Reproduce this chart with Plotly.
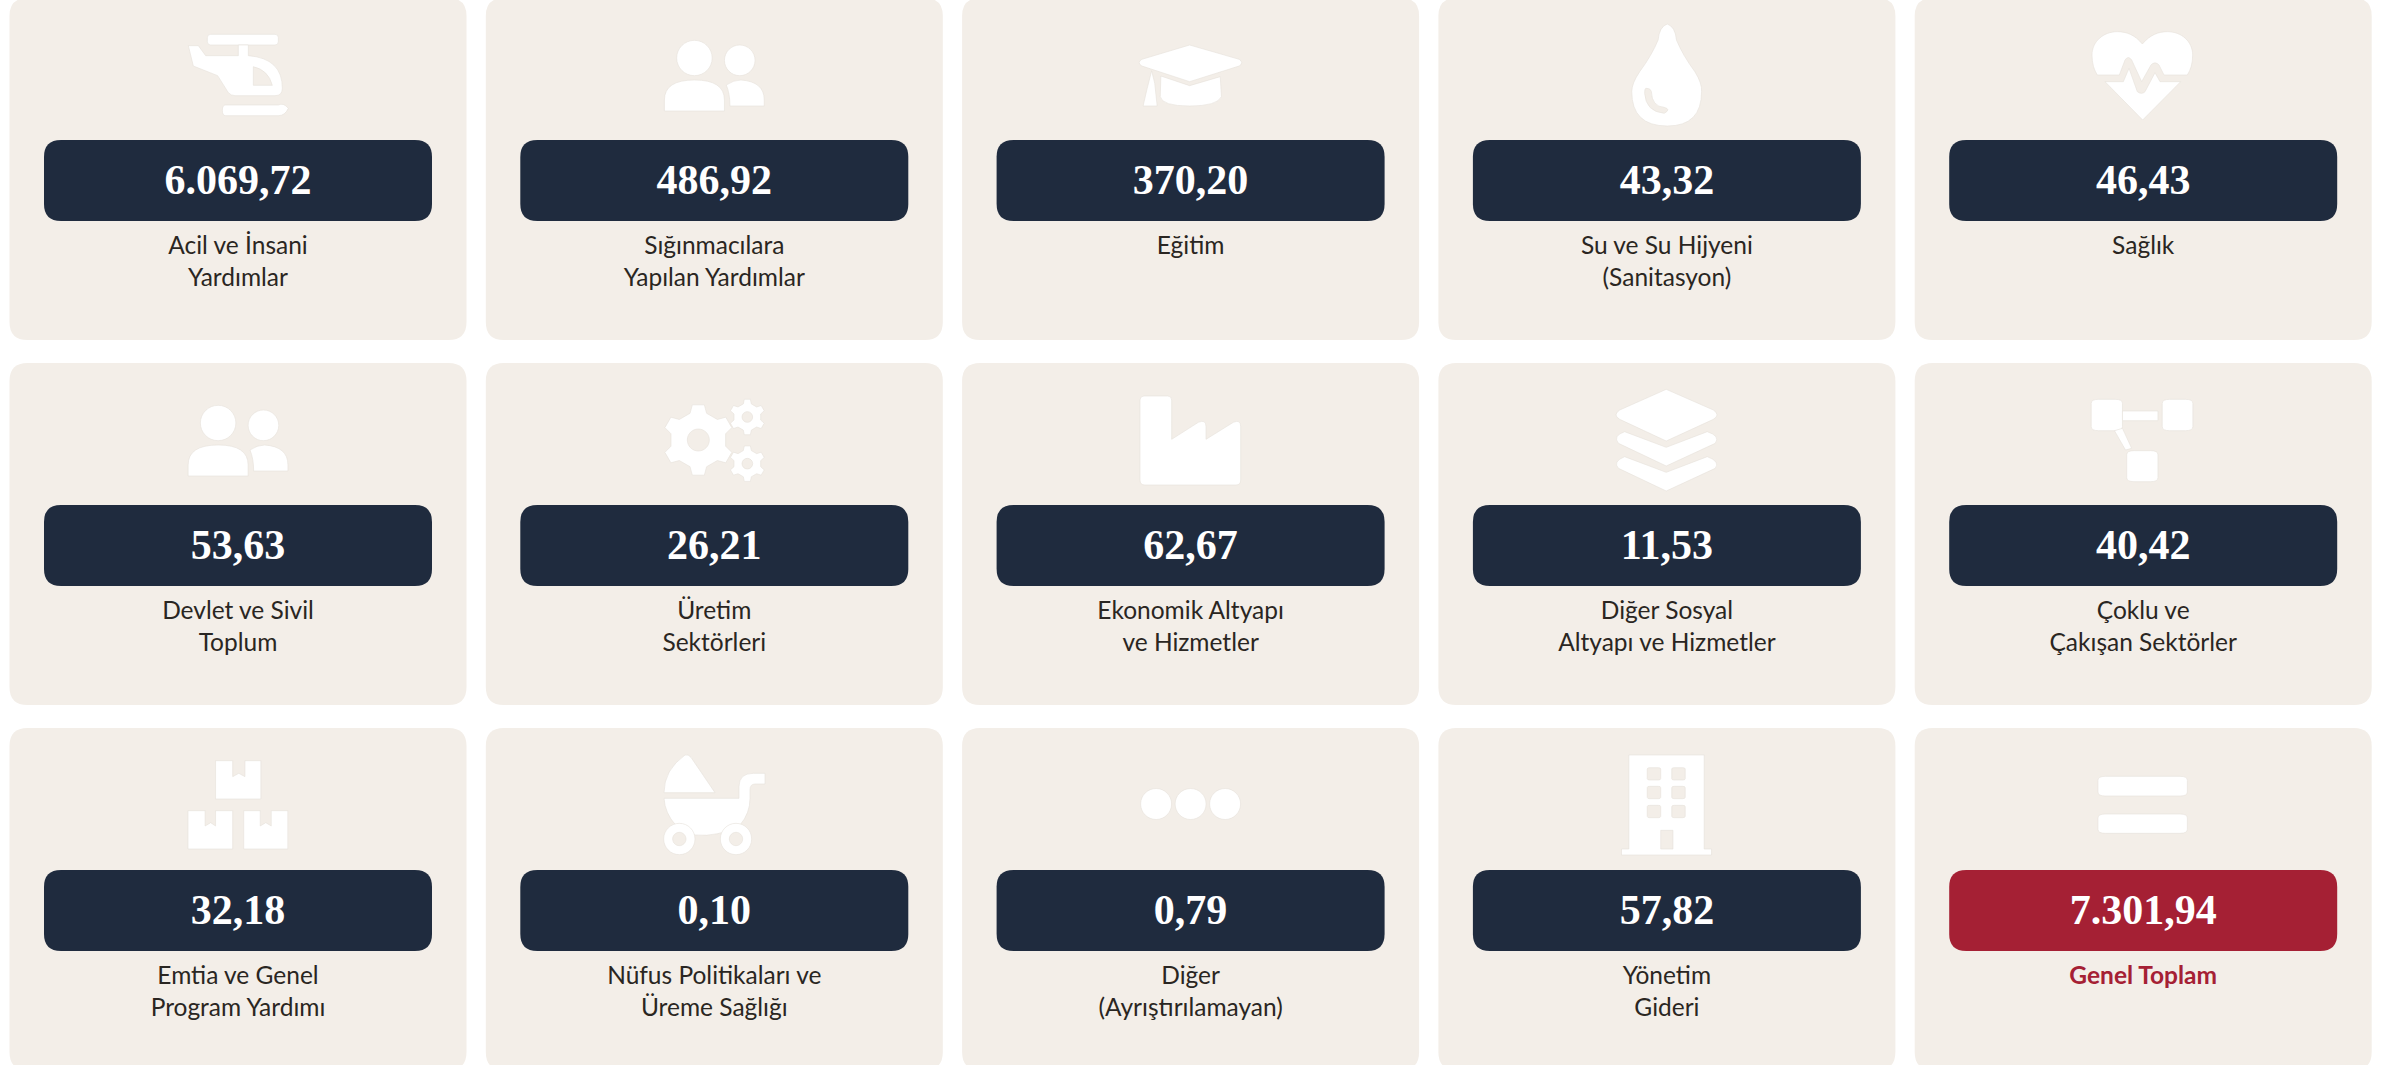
import math
import re
import plotly.graph_objects as go

# ---- data ----
values = [6069.72, 486.92, 370.20, 43.32, 46.43,
          53.63, 26.21, 62.67, 11.53, 40.42,
          32.18, 0.10, 0.79, 57.82, 7301.94]
label_line1 = ["Acil ve İnsani", "Sığınmacılara", "Eğitim", "Su ve Su Hijyeni", "Sağlık",
               "Devlet ve Sivil", "Üretim", "Ekonomik Altyapı", "Diğer Sosyal", "Çoklu ve",
               "Emtia ve Genel", "Nüfus Politikaları ve", "Diğer", "Yönetim", "Genel Toplam"]
label_line2 = ["Yardımlar", "Yapılan Yardımlar", "", "(Sanitasyon)", "",
               "Toplum", "Sektörleri", "ve Hizmetler", "Altyapı ve Hizmetler", "Çakışan Sektörler",
               "Program Yardımı", "Üreme Sağlığı", "(Ayrıştırılamayan)", "Gideri", ""]
icon_names = ["helicopter", "people", "cap", "drop", "heart",
              "people", "gears", "factory", "layers", "network",
              "boxes", "stroller", "dots", "building", "equals"]
total_index = 14

# ---- style / layout ----
W, H = 2407, 1065
CARD_BG, NAVY, RED, INK, ICON = "#F3EEE8", "#1F2B3E", "#A52034", "#2A2622", "#FFFFFF"
CARD_L0, CARD_PITCH, CARD_W = 9.5, 476.3, 457
ROW_TOPS = [-2, 363, 728]
CARD_H = 342
BOX_OFF, BOX_HALF, BOX_H = 142, 194, 81
VALUE_DY, LINE1, LINE2 = 43.5, 107.5, 139.5


def rrect(x0, y0, x1, y1, r):
    return (f"M{x0+r},{y0} L{x1-r},{y0} Q{x1},{y0} {x1},{y0+r} L{x1},{y1-r} Q{x1},{y1} {x1-r},{y1} "
            f"L{x0+r},{y1} Q{x0},{y1} {x0},{y1-r} L{x0},{y0+r} Q{x0},{y0} {x0+r},{y0} Z")


def ell(cx, cy, rx, ry):
    k = 0.5523
    return (f"M{cx+rx},{cy} C{cx+rx},{cy+k*ry} {cx+k*rx},{cy+ry} {cx},{cy+ry} "
            f"C{cx-k*rx},{cy+ry} {cx-rx},{cy+k*ry} {cx-rx},{cy} "
            f"C{cx-rx},{cy-k*ry} {cx-k*rx},{cy-ry} {cx},{cy-ry} "
            f"C{cx+k*rx},{cy-ry} {cx+rx},{cy-k*ry} {cx+rx},{cy} Z")


def gear(cx, cy, ro, ri, hole, teeth=6):
    pts = []
    step = 2 * math.pi / teeth
    for i in range(teeth):
        a = -math.pi / 2 + i * step
        for da, r in ((-0.30, ri), (-0.17, ro), (0.17, ro), (0.30, ri)):
            pts.append((cx + r * math.cos(a + da * 6 / teeth), cy + r * math.sin(a + da * 6 / teeth)))
    d = "M" + " L".join(f"{x:.1f},{y:.1f}" for x, y in pts) + " Z"
    return d + " " + ell(cx, cy, hole, hole)


Z3 = (1 / 3, 1 / 3)
ZA = (1 / 1.633, 1 / 3)

# each icon: (sx, sy, ox, oy, [paths]) — px*scale + offset = position relative to card centre / box top
people = [ell(1134, 174, 29, 53), ell(1208, 181, 25, 46),
          "M1085,300 Q1085,240 1134,240 Q1183,240 1183,300 L1183,333 L1085,333 Z",
          "M1186,255 Q1198,240 1210,240 Q1248,245 1248,300 L1248,318 L1192,318 Q1192,280 1186,255 Z"]
ICONS = {
    "helicopter": (*Z3, -63, -115, [
        rrect(97, 28, 310, 60, 10),
        "M190,60 L220,60 L220,92 Q322,100 322,190 Q322,212 300,212 L180,212 Q168,212 160,203 L128,152 L55,123 L40,62 L70,62 L92,92 L190,92 Z "
        "M235,125 Q280,135 292,181 L235,181 Z",
        "M152,240 L310,240 Q325,232 340,250 Q330,272 310,272 L152,272 Q142,272 142,256 Q142,240 152,240 Z"]),
    "people": (*ZA, -714.3, -140, people),
    "cap": (*ZA, -230.6, -140, [
        "M375,135 L456,178 Q464,188 456,198 L375,245 L297,198 Q288,188 297,178 Z",
        "M328,228 L375,257 L425,230 L427,290 Q420,318 375,318 Q330,318 327,290 Z",
        "M313,212 L318,250 L322,318 L299,318 L305,270 Z"]),
    "drop": (*ZA, -706.9, -140, [
        "M1155,72 Q1168,80 1170,120 Q1180,165 1200,215 Q1212,250 1211,275 Q1211,378 1155,378 "
        "Q1097,378 1097,275 Q1097,250 1110,215 Q1130,165 1140,120 Q1142,80 1155,72 Z "
        "M1120,265 Q1128,265 1129,275 Q1130,320 1150,322 Q1162,328 1150,340 Q1120,335 1118,280 Q1118,265 1120,265 Z"]),
    "heart": (*Z3, -63.2, -120, [
        "M187,72 C210,45 235,35 262,35 C305,35 338,65 338,105 C338,130 332,150 322,165 L252,165 L237,135 "
        "Q225,122 213,135 L185,185 L155,120 Q145,105 135,120 L118,165 L52,165 C42,150 36,130 36,105 "
        "C36,65 70,35 112,35 C140,35 165,45 187,72 Z",
        "M75,185 L130,185 L147,145 L172,215 Q185,225 195,215 L225,158 L240,185 L302,185 L188,300 Z"]),
    "gears": (*Z3, -59.3, -120, [gear(130, 165, 107, 84, 33), gear(277, 96, 54, 41, 16), gear(277, 236, 54, 41, 16)]),
    "factory": (*Z3, -60.6, -120, [
        "M30,45 Q30,33 42,33 L113,33 Q125,33 125,45 L125,163 L205,112 Q228,102 228,125 L228,163 L310,112 "
        "Q332,102 332,125 L332,285 Q332,300 318,300 L45,300 Q30,300 30,285 Z"]),
    "layers": (*ZA, -219.9, -145, [
        "M358,88 L435,150 Q447,165 435,178 L358,243 L282,178 Q270,165 282,150 Z",
        "M290,215 L358,262 L425,215 Q447,228 438,250 L358,318 L280,250 Q270,228 290,215 Z",
        "M290,290 L358,337 L425,290 Q447,305 438,325 L358,393 L280,325 Q270,305 290,290 Z"]),
    "network": (*ZA, -696.2, -145, [
        rrect(1052, 118, 1103, 212, 12), rrect(1168, 118, 1218, 212, 12), rrect(1110, 272, 1161, 365, 12),
        "M1103,153 L1161,153 L1161,182 L1103,182 Z", "M1103,205 L1118,265 L1108,270 L1090,212 Z"]),
    "boxes": (*ZA, -238, -155, [
        "M352,137 L380,137 L380,185 L390,175 L400,185 L400,137 L426,137 L426,252 L352,252 Z",
        "M307,287 L335,287 L335,333 L344,323 L352,333 L352,287 L380,287 L380,402 L307,402 Z",
        "M398,287 L425,287 L425,333 L434,323 L443,333 L443,287 L470,287 L470,402 L398,402 Z"]),
    "stroller": (*Z3, -59.3, -120, [
        "M27,128 Q27,60 90,15 Q100,12 108,22 L180,128 Z",
        "M27,145 L252,145 L252,110 Q252,70 295,70 L330,70 L330,102 L300,102 Q285,102 285,120 L285,145 "
        "Q285,190 255,225 Q190,262 120,255 L62,225 Q30,190 27,145 Z",
        ell(73, 267, 47, 47) + " " + ell(73, 267, 20, 20),
        ell(243, 267, 47, 47) + " " + ell(243, 267, 20, 20)]),
    "dots": (1, 1, 0, 0, [ell(-34.5, -66, 15.5, 15.5), ell(0, -66, 15.5, 15.5), ell(34.5, -66, 15.5, 15.5)]),
    "building": (*ZA, -219.9, -155, [
        "M297,120 L420,120 L420,402 L432,402 L432,420 L285,420 L285,402 L297,402 Z "
        + " ".join(rrect(x, y, x + 22, y + 37, 4) for y in (158, 214, 271) for x in (327, 367))
        + " M349,346 L369,346 L369,402 L349,402 Z"]),
    "equals": (*ZA, -696.2, -155, [rrect(1063, 184, 1209, 243, 12), rrect(1063, 297, 1209, 355, 12)]),
}


def place(path, sx, sy, ox, oy, cx, top):
    is_x = [True]

    def sub(m):
        v = float(m.group(0))
        res = cx + v * sx + ox if is_x[0] else top + v * sy + oy
        is_x[0] = not is_x[0]
        return f"{res:.2f}"
    return re.sub(r"-?\d+(?:\.\d+)?", sub, path)


def fmt_tr(v):
    return f"{v:,.2f}".replace(",", "X").replace(".", ",").replace("X", ".")


centers_x, box_tops, shapes = [], [], []
for i, name in enumerate(icon_names):
    col, row = i % 5, i // 5
    left = CARD_L0 + col * CARD_PITCH
    cx = left + CARD_W / 2
    top = ROW_TOPS[row]
    bt = top + BOX_OFF
    centers_x.append(cx)
    box_tops.append(bt)
    shapes.append(dict(type="path", path=rrect(left, top, left + CARD_W, top + CARD_H, 18),
                       fillcolor=CARD_BG, line=dict(width=0), layer="below"))
    shapes.append(dict(type="path", path=rrect(cx - BOX_HALF, bt, cx + BOX_HALF, bt + BOX_H, 17),
                       fillcolor=RED if i == total_index else NAVY, line=dict(width=0), layer="below"))
    sx, sy, ox, oy, paths = ICONS[name]
    for p in paths:
        shapes.append(dict(type="path", path=place(p, sx, sy, ox, oy, cx, bt),
                           fillcolor=ICON, line=dict(color="#E6E1DA", width=0.6), layer="below"))

fig = go.Figure()
fig.add_trace(go.Scatter(
    x=centers_x, y=[b + VALUE_DY for b in box_tops], mode="text",
    text=[fmt_tr(v) for v in values], textposition="middle center", hoverinfo="skip",
    textfont=dict(family="Liberation Serif", size=42, color="#FFFFFF", weight=700)))
fig.add_trace(go.Scatter(
    x=centers_x, y=[b + LINE1 for b in box_tops], mode="text",
    text=label_line1, textposition="middle center", hoverinfo="skip",
    textfont=dict(family="Lato", size=24.5,
                  color=[RED if i == total_index else INK for i in range(len(values))],
                  weight=[700 if i == total_index else 400 for i in range(len(values))])))
fig.add_trace(go.Scatter(
    x=centers_x, y=[b + LINE2 for b in box_tops], mode="text",
    text=label_line2, textposition="middle center", hoverinfo="skip",
    textfont=dict(family="Lato", size=24.5, color=INK)))

fig.update_layout(
    width=W, height=H, margin=dict(l=0, r=0, t=0, b=0), autosize=False,
    paper_bgcolor="#FFFFFF", plot_bgcolor="#FFFFFF", showlegend=False, shapes=shapes,
    xaxis=dict(range=[0, W], visible=False, fixedrange=True),
    yaxis=dict(range=[H, 0], visible=False, fixedrange=True))
fig.write_html("out.html", config=dict(displayModeBar=False),
               post_script="document.body.style.margin='0';document.body.style.overflow='hidden';")
